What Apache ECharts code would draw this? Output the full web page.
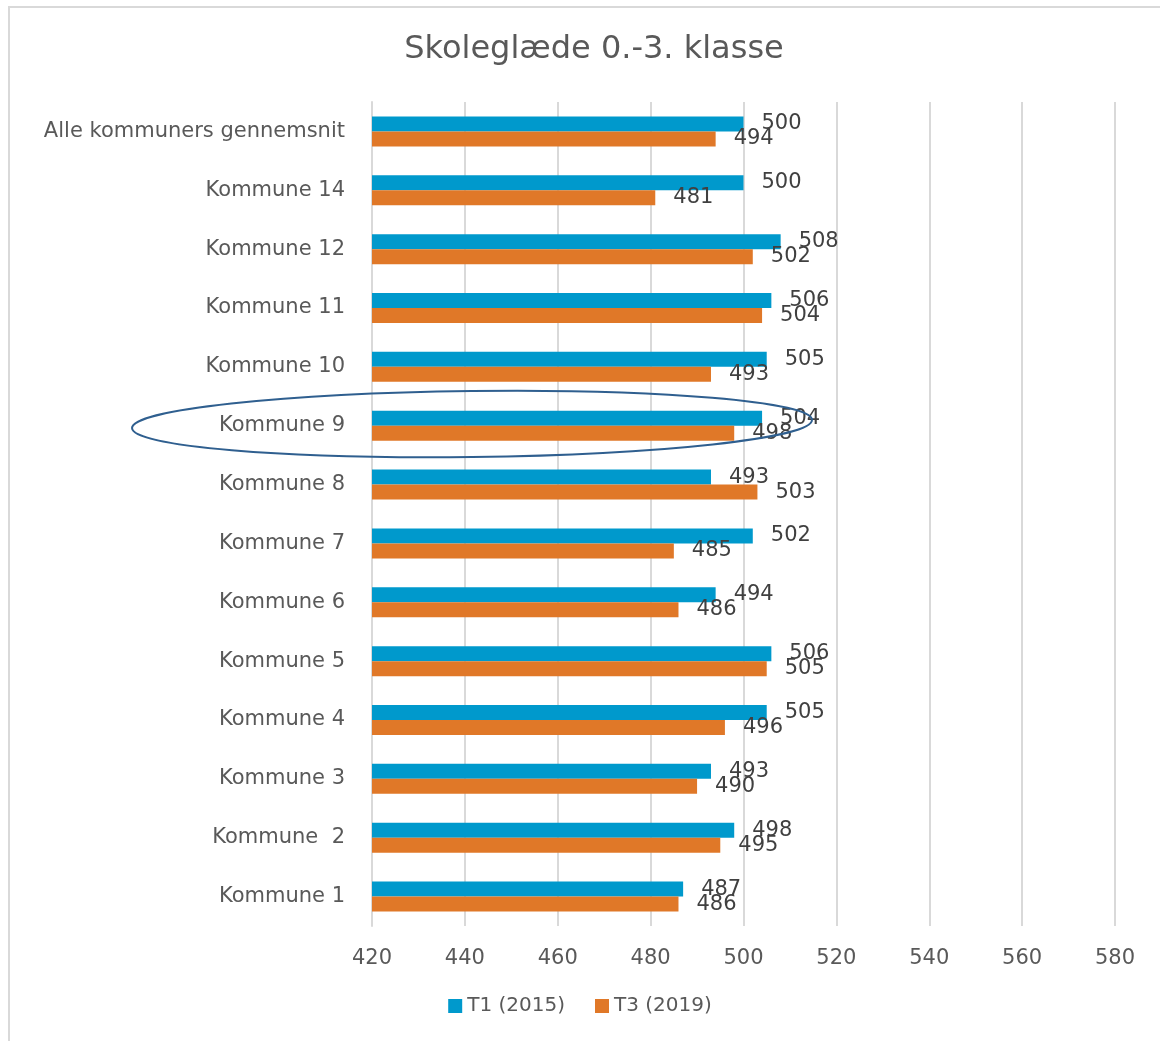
<!DOCTYPE html>
<html>
<head>
<meta charset="utf-8">
<script src="https://cdn.jsdelivr.net/npm/echarts@6/dist/echarts.min.js"></script>
<style>
    html, body { margin: 0; padding: 0; background: #fff; }
    #chart { width: 1160px; height: 1041px; }
</style>
</head>
<body>
<div id="chart"></div>
<script>
// kategorier (oppefra og ned)
const categories = [
    'Alle kommuners gennemsnit', 'Kommune 14', 'Kommune 12', 'Kommune 11', 'Kommune 10',
    'Kommune 9', 'Kommune 8', 'Kommune 7', 'Kommune 6', 'Kommune 5',
    'Kommune 4', 'Kommune 3', 'Kommune  2', 'Kommune 1'
];
const t1Values = [500, 500, 508, 506, 505, 504, 493, 502, 494, 506, 505, 493, 498, 487];
const t3Values = [494, 481, 502, 504, 493, 498, 503, 485, 486, 505, 496, 490, 495, 486];
const seriesNames = ['T1 (2015)', 'T3 (2019)'];
const axisMin = 420;
const axisMax = 580;
const axisStep = 20;

const fontFam = '"DejaVu Sans", sans-serif';
const textGray = '#595959';

const chart = echarts.init(document.getElementById('chart'));

const labelOpt = {
    show: true,
    position: 'right',
    distance: 18,
    color: '#404040',
    fontSize: 21,
    fontFamily: fontFam
};

chart.setOption({
    animation: false,
    backgroundColor: '#fff',
    title: {
        text: 'Skoleglæde 0.-3. klasse',
        left: 589,
        textAlign: 'center',
        top: 29,
        textStyle: {
            color: textGray,
            fontSize: 32,
            fontWeight: 'normal',
            fontFamily: fontFam
        }
    },
    legend: {
        bottom: 20,
        left: 'center',
        padding: [5, 5, 5, 45], // skubber legenden lidt mod hoejre
        itemWidth: 14,
        itemHeight: 14,
        itemGap: 30,
        icon: 'rect',
        textStyle: {
            color: textGray,
            fontSize: 20,
            fontFamily: fontFam
        },
        data: seriesNames
    },
    grid: {
        left: 372,
        right: 45,
        top: 102,
        bottom: 115,
        containLabel: false
    },
    xAxis: {
        type: 'value',
        min: axisMin,
        max: axisMax,
        interval: axisStep,
        axisLine: { show: false },
        axisTick: { show: false },
        splitLine: { show: true, lineStyle: { color: '#d9d9d9', width: 2 } },
        axisLabel: {
            color: textGray,
            fontSize: 21,
            margin: 22,
            fontFamily: fontFam
        }
    },
    yAxis: {
        type: 'category',
        data: categories,
        inverse: true,
        axisLine: { show: true, lineStyle: { color: '#d9d9d9', width: 2 } },
        axisTick: { show: false },
        axisLabel: {
            color: textGray,
            fontSize: 21,
            margin: 27,
            fontFamily: fontFam
        }
    },
    series: [
        {
            name: seriesNames[0],
            type: 'bar',
            data: t1Values,
            barWidth: 15,
            barGap: '0%',
            itemStyle: { color: '#0099cc' },
            label: labelOpt
        },
        {
            name: seriesNames[1],
            type: 'bar',
            data: t3Values,
            barWidth: 15,
            itemStyle: { color: '#e07828' },
            label: labelOpt
        }
    ],
    graphic: [
        {
            type: 'rect',
            shape: { x: 9, y: 7, width: 1170, height: 1060 },
            style: { fill: 'none', stroke: '#d9d9d9', lineWidth: 2 },
            silent: true
        },
        {
            // markering af Kommune 9
            type: 'ellipse',
            shape: { cx: 472, cy: 424, rx: 340, ry: 33 },
            style: { fill: 'none', stroke: '#2f5f8f', lineWidth: 2 },
            rotation: 0.012,
            originX: 472,
            originY: 424,
            z: 100,
            silent: true
        }
    ]
});
</script>
</body>
</html>
